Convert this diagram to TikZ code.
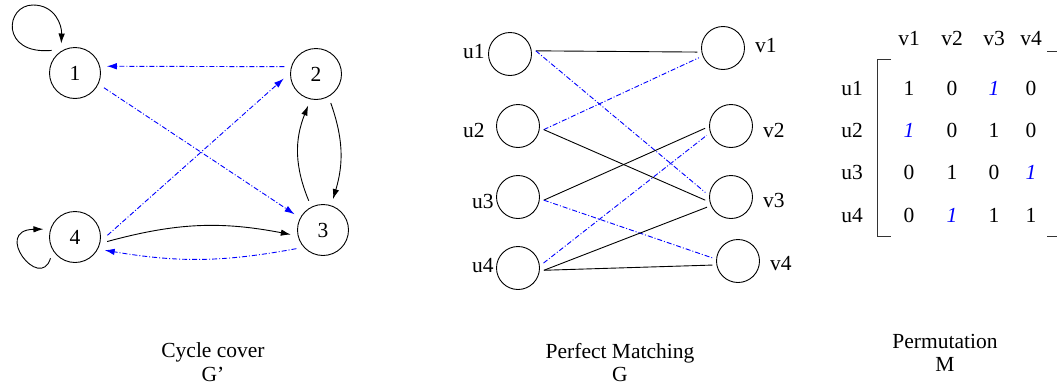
\documentclass[tikz,border=0pt]{standalone}
\usepackage{fontspec}
\setmainfont{Liberation Serif}
\newfontfamily\tnr{Liberation Serif}
\usetikzlibrary{arrows.meta}
\begin{document}
\begin{tikzpicture}[x=1pt,y=1pt,
  txt/.style={font=\tnr\fontsize{21.5}{24}\selectfont, inner sep=0pt, outer sep=0pt},
  bignode/.style={circle, draw, line width=0.9pt, minimum size=51pt, inner sep=0pt, outer sep=7pt, font=\tnr\fontsize{21.5}{24}\selectfont},
  smallnode/.style={circle, draw, line width=0.9pt, minimum size=43pt, inner sep=0pt, outer sep=4.5pt},
  arr/.style={-{Latex[length=10pt,width=6.5pt]}},
  blk/.style={line width=0.9pt},
  bl/.style={blue, line width=0.9pt, dash pattern=on 5pt off 2pt on 1pt off 2pt},
  bone/.style={txt, text=blue, font=\tnr\fontsize{21.5}{24}\selectfont\itshape},
]
\useasboundingbox (0,0) rectangle (1057,-391);

% ---- Cycle cover G'
\node[bignode] (1) at (75,-73) {1};
\node[bignode] (2) at (316,-74) {2};
\node[bignode] (3) at (323,-230) {3};
\node[bignode] (4) at (75,-237) {4};

\draw[bl, arr] (2.167) -- (1.12);
\draw[bl, arr] (1.-27) -- (3.151);
\draw[bl, arr] (4.3) -- (2.-172);
\draw[bl, arr] (3.-145) to[bend left=10] (4.-24);
\draw[blk, arr] (4.-8) to[bend left=13] (3.-172);
\draw[blk, arr] (3.116) to[bend left=22] (2.-104);
\draw[blk, arr] (2.-63) to[bend left=18] (3.72);
\draw[blk, arr] (1.136) .. controls (0,-55) and (5,-5) .. (33,-5) .. controls (55,-5) and (62,-25) .. (1.115);
\draw[blk, arr] (4.-139) .. controls (40,-292) and (-8,-230) .. (4.166);

\node[txt, anchor=base] (c1) at (213,-357) {Cycle cover};
\node[txt, anchor=base] (c2) at (213,-381) {G’};

% ---- Perfect matching G
\node[smallnode] (u1) at (510,-54) {};
\node[smallnode] (u2) at (518,-126) {};
\node[smallnode] (u3) at (518,-197) {};
\node[smallnode] (u4) at (518,-268) {};
\node[smallnode] (v1) at (723,-48) {};
\node[smallnode] (v2) at (731,-126) {};
\node[smallnode] (v3) at (731,-197) {};
\node[smallnode] (v4) at (738,-261) {};

\node[txt, anchor=base west] (lu1) at (463,-58) {u1};
\node[txt, anchor=base west] (lu2) at (463,-137) {u2};
\node[txt, anchor=base west] (lu3) at (472,-208) {u3};
\node[txt, anchor=base west] (lu4) at (472,-272) {u4};
\node[txt, anchor=base west] (lv1) at (755,-52) {v1};
\node[txt, anchor=base west] (lv2) at (763,-137) {v2};
\node[txt, anchor=base west] (lv3) at (763,-207) {v3};
\node[txt, anchor=base west] (lv4) at (770,-270) {v4};

\draw[blk] (u1.7) -- (v1.-171);
\draw[bl] (u1.7) -- (v3.170);
\draw[bl] (u2.-8) -- (v1.-158);
\draw[blk] (u2.-8) -- (v3.-173);
\draw[blk] (u3.-7) -- (v2.-175);
\draw[bl] (u3.-7) -- (v4.173);
\draw[bl] (u4.11) -- (v2.-159);
\draw[blk] (u4.-5) -- (v3.-157);
\draw[blk] (u4.-5) -- (v4.-171);

\node[txt, anchor=base] (pm1) at (620,-358) {Perfect Matching};
\node[txt, anchor=base] (pm2) at (620,-381) {G};

% ---- Permutation M
\node[txt, anchor=base] (h1) at (909,-45) {v1};
\node[txt, anchor=base] (h2) at (952,-45) {v2};
\node[txt, anchor=base] (h3) at (994,-45) {v3};
\node[txt, anchor=base] (h4) at (1031,-45) {v4};
\node[txt, anchor=base] (r1) at (852,-95) {u1};
\node[txt, anchor=base] (r2) at (852,-137) {u2};
\node[txt, anchor=base] (r3) at (852,-179) {u3};
\node[txt, anchor=base] (r4) at (852,-222) {u4};

\node[txt, anchor=base] (m11) at (909,-95) {1};
\node[txt, anchor=base] (m12) at (952,-95) {0};
\node[bone, anchor=base] (m13) at (994,-95) {1};
\node[txt, anchor=base] (m14) at (1031,-95) {0};
\node[bone, anchor=base] (m21) at (909,-137) {1};
\node[txt, anchor=base] (m22) at (952,-137) {0};
\node[txt, anchor=base] (m23) at (994,-137) {1};
\node[txt, anchor=base] (m24) at (1031,-137) {0};
\node[txt, anchor=base] (m31) at (909,-179) {0};
\node[txt, anchor=base] (m32) at (952,-179) {1};
\node[txt, anchor=base] (m33) at (994,-179) {0};
\node[bone, anchor=base] (m34) at (1031,-179) {1};
\node[txt, anchor=base] (m41) at (909,-222) {0};
\node[bone, anchor=base] (m42) at (952,-222) {1};
\node[txt, anchor=base] (m43) at (994,-222) {1};
\node[txt, anchor=base] (m44) at (1031,-222) {1};

\draw[line width=0.8pt, black!80] (891,-59) -- (877,-59) -- (877,-236) -- (891,-236);
\draw[line width=0.8pt, black!80] (1047,-51) -- (1057,-51);
\draw[line width=0.8pt, black!80] (1047,-236) -- (1057,-236);

\node[txt, anchor=base] (p1) at (945,-348) {Permutation};
\node[txt, anchor=base] (p2) at (945,-371) {M};
\end{tikzpicture}
\end{document}
